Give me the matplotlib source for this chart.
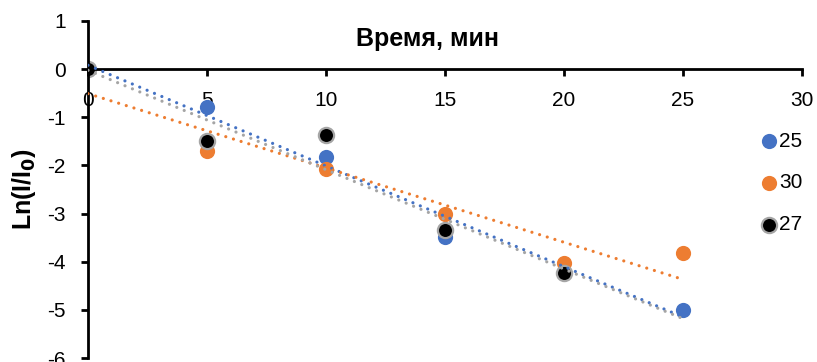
import numpy as np
import matplotlib
matplotlib.use("Agg")
import matplotlib.pyplot as plt

plt.rcParams["font.family"] = ["Liberation Sans", "DejaVu Sans"]
plt.rcParams["axes.unicode_minus"] = False

# data
x_25 = [0, 5, 10, 15, 25]
y_25 = [0, -0.79, -1.82, -3.49, -5.0]
x_30 = [0, 5, 10, 15, 20, 25]
y_30 = [0, -1.70, -2.08, -3.0, -4.03, -3.82]
x_27 = [0, 5, 10, 15, 20]
y_27 = [0, -1.49, -1.37, -3.35, -4.23]

series = [
    ("25", x_25, y_25, "#4472C4", "#4472C4", 25),
    ("30", x_30, y_30, "#ED7D31", "#ED7D31", 25),
    ("27", x_27, y_27, "#000000", "#A5A5A5", 25),
]
trend_colors = {"25": "#4472C4", "30": "#ED7D31", "27": "#A5A5A5"}

fig = plt.figure(figsize=(8.17, 3.62), dpi=100)
ax = fig.add_axes([88 / 817, 1 - 358 / 362, (802 - 88) / 817, (358 - 21) / 362])

for name, xs, ys, face, edge, x_end in series:
    ax.scatter(xs, ys, s=120, color=face, edgecolors=edge,
               linewidths=1.6 if name == "27" else 0, zorder=2, label=name)
    # linear trendline like the Excel one
    k, b = np.polyfit(xs, ys, 1)
    xt = np.array([0, x_end])
    ax.plot(xt, k * xt + b, color=trend_colors[name], linewidth=2.3,
            dashes=(0.01, 2.5), dash_capstyle="round", zorder=3)

ax.set_xlim(0, 30)
ax.set_ylim(-6, 1)
ax.set_xticks(range(0, 31, 5))
ax.set_yticks(range(-6, 2))

ax.spines["top"].set_visible(False)
ax.spines["right"].set_visible(False)
ax.spines["bottom"].set_position(("data", 0))
ax.spines["left"].set_position(("data", 0))
for side in ("bottom", "left"):
    ax.spines[side].set_linewidth(2.0)
ax.tick_params(axis="both", direction="out", length=5, width=2.0,
               labelsize=15, pad=11)

ax.text(0.476, 0.948, "Время, мин", transform=ax.transAxes,
        ha="center", va="center", fontsize=18, fontweight="bold")
ax.set_ylabel(r"Ln(I/I$_\mathbf{0}$)", fontsize=18, fontweight="bold")
ax.yaxis.set_label_coords(-0.07, 0.5)

ax.legend(loc="center left", bbox_to_anchor=(752 / 817, 1 - 183 / 362),
          bbox_transform=fig.transFigure, frameon=False, fontsize=15,
          handlelength=0.6, handletextpad=0.2, labelspacing=1.1,
          borderpad=0, scatterpoints=1)

fig.savefig("out.png", dpi=100)
